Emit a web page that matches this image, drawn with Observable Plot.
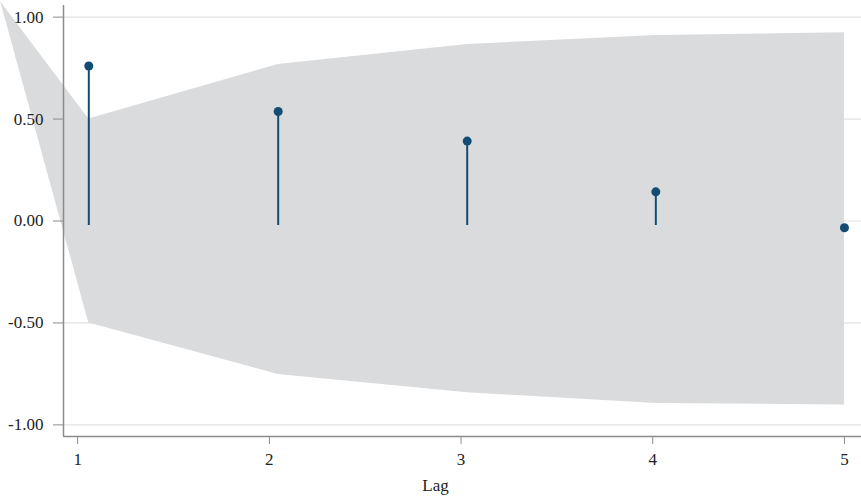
<!DOCTYPE html>
<html>
<head>
<meta charset="utf-8">
<script src="https://cdn.jsdelivr.net/npm/d3@7"></script>
<script src="https://cdn.jsdelivr.net/npm/@observablehq/plot@0.6"></script>
<style>
  html, body { margin: 0; padding: 0; background: #fff; }
</style>
</head>
<body>
<div id="chart"></div>
<script>
// Tick labels
const lagTicks = [1, 2, 3, 4, 5];
const yTicks = [-1, -0.5, 0, 0.5, 1];

// Autocorrelations (positions on the lag axis as drawn, and values)
const lagPos = [1.058, 2.046, 3.032, 4.016, 5.0];
const acf = [0.760, 0.537, 0.392, 0.143, -0.033];
const stemBase = -0.022;

// Confidence band vertices
const bandLag = [0.598, 1.058, 2.046, 3.032, 4.016, 5.0];
const bandUpper = [1.075, 0.50, 0.768, 0.866, 0.910, 0.923];
const bandLower = [1.075, -0.50, -0.753, -0.842, -0.895, -0.902];

const points = lagPos.map((x, i) => ({x, y: acf[i]}));
const band = bandLag.map((x, i) => ({x, lo: bandLower[i], hi: bandUpper[i]}));

const xDomain = [0.926, 5.089];
const yDomain = [-1.057, 1.057];
const navy = "#134c73";
const axisGray = "#8c8c8c";

const chart = Plot.plot({
  width: 861,
  height: 501,
  marginLeft: 63,
  marginRight: 0,
  marginTop: 5,
  marginBottom: 65,
  style: {fontFamily: "'Liberation Serif', serif", fontSize: "17px", color: "#222", overflow: "hidden"},
  x: {domain: xDomain},
  y: {domain: yDomain},
  marks: [
    Plot.ruleY(yTicks, {stroke: "#e2e2e2", strokeWidth: 1.2}),
    Plot.areaY(band, {x: "x", y1: "lo", y2: "hi", fill: "#dadbdd"}),
    Plot.ruleX(points, {x: "x", y1: stemBase, y2: "y", stroke: navy, strokeWidth: 2}),
    Plot.dot(points, {x: "x", y: "y", r: 4.5, fill: navy}),
    Plot.ruleY([yDomain[0]], {stroke: axisGray, strokeWidth: 1.5}),
    Plot.ruleX([xDomain[0]], {stroke: axisGray, strokeWidth: 1.5}),
    Plot.axisY(yTicks, {tickFormat: d => d.toFixed(2), tickSize: 10, tickPadding: 10, stroke: axisGray, fill: "#222", label: null}),
    Plot.axisX(lagTicks, {tickFormat: d => String(d), tickSize: 8, tickPadding: 8, stroke: axisGray, fill: "#222", label: null}),
    Plot.text(["Lag"], {frameAnchor: "bottom", lineAnchor: "top", dx: -27, dy: 42, fill: "#222"})
  ]
});
document.getElementById("chart").appendChild(chart);
</script>
</body>
</html>
